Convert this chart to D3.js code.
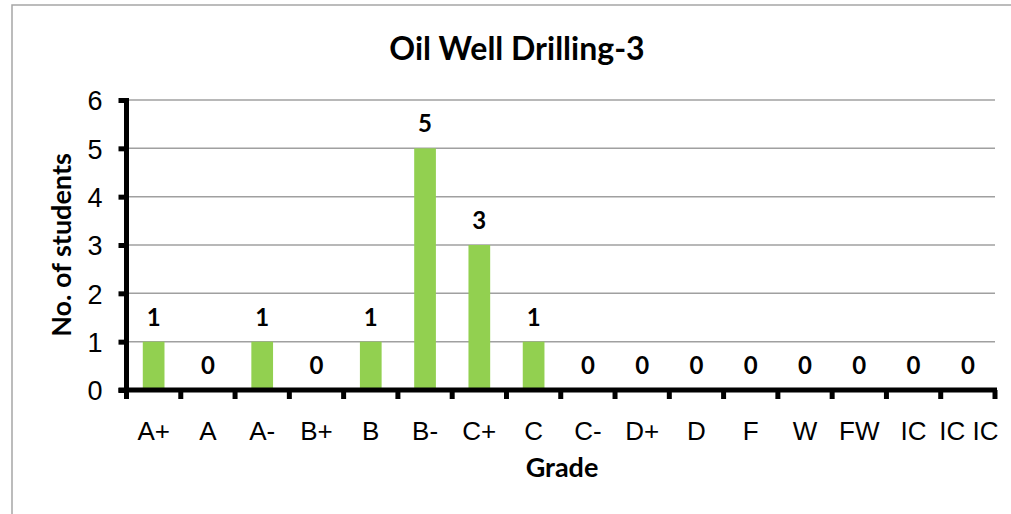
<!DOCTYPE html>
<html lang="en">
<head>
<meta charset="utf-8">
<title>Oil Well Drilling-3</title>
<script src="https://cdn.jsdelivr.net/npm/d3@7"></script>
<style>
  body { margin: 0; background: #fff; }
</style>
</head>
<body>
<script>
var grades = ["A+", "A", "A-", "B+", "B", "B-", "C+", "C", "C-", "D+", "D", "F", "W", "FW", "IC", "IC IC"];
var students = [1, 0, 1, 0, 1, 5, 3, 1, 0, 0, 0, 0, 0, 0, 0, 0];
var yTicks = [0, 1, 2, 3, 4, 5, 6];

var w = 1011, h = 514;
var plotLeft = 126.5, plotRight = 995, plotTop = 100, plotBottom = 390;

var svg = d3.select("body").append("svg")
  .attr("width", w)
  .attr("height", h);

// chart frame
svg.append("rect")
  .attr("x", 12).attr("y", 5)
  .attr("width", 1010).attr("height", 520)
  .attr("fill", "#fff")
  .attr("stroke", "#a6a6a6")
  .attr("stroke-width", 1.5);

var x = d3.scaleBand().domain(d3.range(grades.length)).range([plotLeft, plotRight]).paddingInner(0.6).paddingOuter(0.3);
var xb = d3.scaleBand().domain(d3.range(grades.length)).range([plotLeft, plotRight]);
var y = d3.scaleLinear().domain([0, 6]).range([plotBottom, plotTop]);

// gridlines
svg.selectAll(".grid")
  .data(yTicks.slice(1))
  .enter().append("line")
  .attr("x1", plotLeft).attr("x2", plotRight)
  .attr("y1", function(d) { return y(d); })
  .attr("y2", function(d) { return y(d); })
  .attr("stroke", "#a0a0a0")
  .attr("stroke-width", 1.5);

// bars
svg.selectAll(".bar")
  .data(students)
  .enter().append("rect")
  .attr("x", function(d, i) { return x(i); })
  .attr("y", function(d) { return y(d); })
  .attr("width", x.bandwidth())
  .attr("height", function(d) { return plotBottom - y(d); })
  .attr("fill", "#92d050");

// value labels
svg.selectAll(".val")
  .data(students)
  .enter().append("text")
  .text(function(d) { return d; })
  .attr("x", function(d, i) { return xb(i) + xb.bandwidth() / 2; })
  .attr("y", function(d) { return y(d) - 16; })
  .attr("text-anchor", "middle")
  .attr("font-family", "Lato, 'Open Sans', sans-serif")
  .attr("font-weight", "bold")
  .attr("font-size", "24px")
  .attr("fill", "#000");

// y axis
var yAxis = d3.axisLeft(y).tickValues(yTicks).tickFormat(d3.format("d")).tickSize(8).tickPadding(16);
var gy = svg.append("g").attr("transform", "translate(" + plotLeft + ",0)").call(yAxis);
gy.attr("font-size", null).attr("font-family", null);
gy.select(".domain").attr("stroke", "#000").attr("stroke-width", 5).attr("d", "M0," + (plotTop - 2) + "V" + (plotBottom + 2));
gy.selectAll(".tick line").attr("stroke", "#000").attr("stroke-width", 5);
gy.selectAll(".tick text")
  .attr("font-family", "'Liberation Sans', Arial, sans-serif")
  .attr("font-size", "27px")
  .attr("fill", "#000")
  .attr("dy", "0.36em");

// x axis with ticks on band edges
var gx = svg.append("g").attr("transform", "translate(0," + plotBottom + ")");
gx.append("line")
  .attr("x1", plotLeft - 8).attr("x2", plotRight + 2)
  .attr("y1", 0).attr("y2", 0)
  .attr("stroke", "#000").attr("stroke-width", 5);
var edges = d3.range(grades.length + 1).map(function(i) { return i < grades.length ? xb(i) : plotRight; });
gx.selectAll(".xtick")
  .data(edges)
  .enter().append("line")
  .attr("x1", function(d) { return d; })
  .attr("x2", function(d) { return d; })
  .attr("y1", 0).attr("y2", 9)
  .attr("stroke", "#000").attr("stroke-width", 5);
gx.selectAll(".xlab")
  .data(grades)
  .enter().append("text")
  .text(function(d) { return d; })
  .attr("x", function(d, i) { return xb(i) + xb.bandwidth() / 2 + (i == grades.length - 1 ? 1 : 0); })
  .attr("y", 50)
  .attr("text-anchor", "middle")
  .attr("font-family", "'Liberation Sans', Arial, sans-serif")
  .attr("font-size", "26px")
  .attr("fill", "#000");

// title
svg.append("text")
  .text("Oil Well Drilling-3")
  .attr("x", 517).attr("y", 60)
  .attr("text-anchor", "middle")
  .attr("font-family", "Lato, 'Open Sans', sans-serif")
  .attr("font-weight", "bold")
  .attr("font-size", "32px")
  .attr("fill", "#000");

// axis titles
svg.append("text")
  .text("Grade")
  .attr("x", 562).attr("y", 477)
  .attr("text-anchor", "middle")
  .attr("font-family", "Lato, 'Open Sans', sans-serif")
  .attr("font-weight", "bold")
  .attr("font-size", "27px")
  .attr("fill", "#000");

svg.append("text")
  .text("No. of students")
  .attr("transform", "translate(71,245) rotate(-90)")
  .attr("text-anchor", "middle")
  .attr("font-family", "Lato, 'Open Sans', sans-serif")
  .attr("font-weight", "bold")
  .attr("font-size", "27px")
  .attr("fill", "#000");
</script>
</body>
</html>
